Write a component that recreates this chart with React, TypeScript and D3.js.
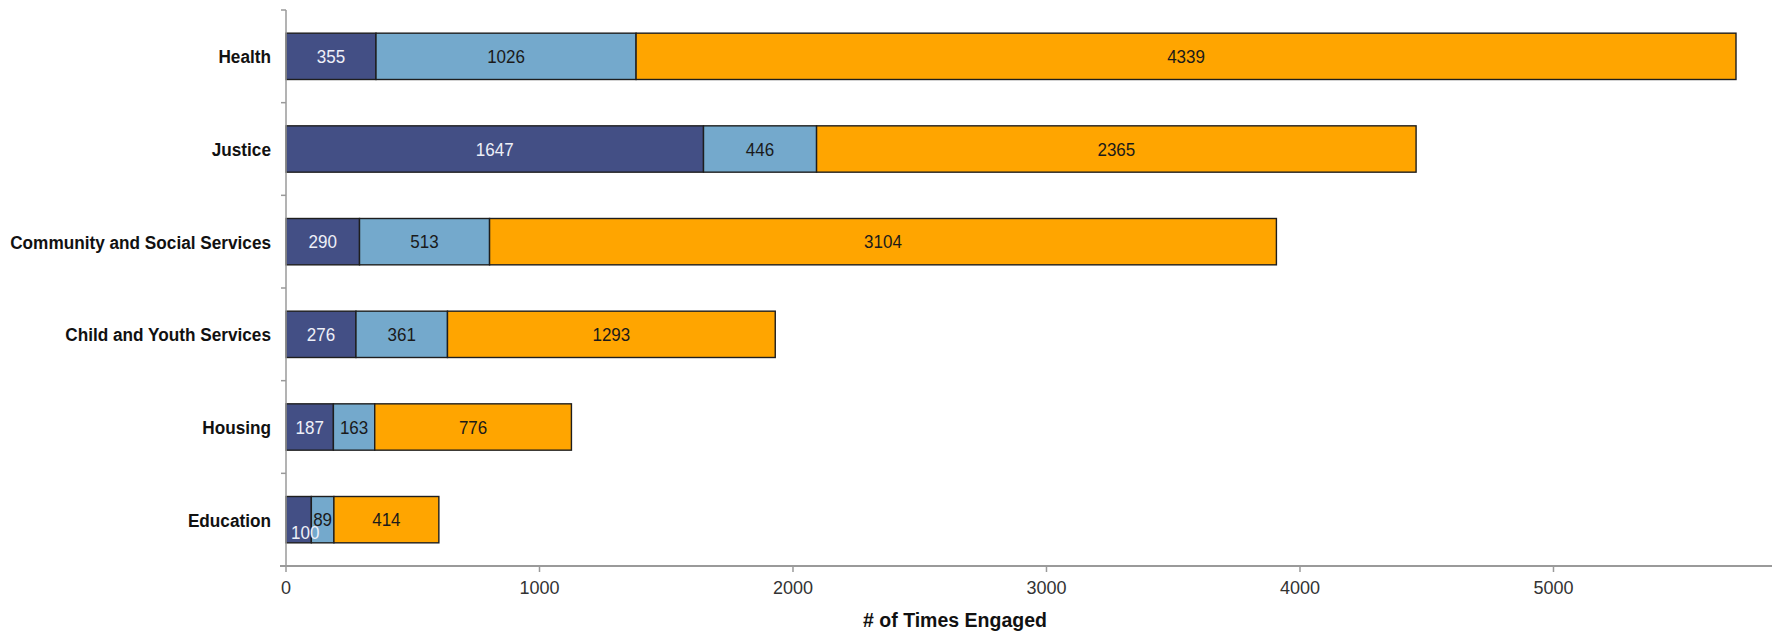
import React from "react";
import * as d3 from "d3";

const categories = ["Health", "Justice", "Community and Social Services", "Child and Youth Services", "Housing", "Education"];
const seriesA = [355, 1647, 290, 276, 187, 100];
const seriesB = [1026, 446, 513, 361, 163, 89];
const seriesC = [4339, 2365, 3104, 1293, 776, 414];
const xTicks = [0, 1000, 2000, 3000, 4000, 5000];
const xTitle = "# of Times Engaged";

const colors = ["#434f85", "#74a9cc", "#ffa500"];
const labelColors = ["#eef0f8", "#1a1a1a", "#1a1a1a"];

const W = 1776;
const H = 633;
const left = 286;
const right = 1772;
const top = 10;
const bottom = 566;
const FONT = "'Liberation Sans', Arial, sans-serif";

export default function App() {
  const x = d3.scaleLinear().domain([0, 5862]).range([left, right]);
  const y = d3.scaleBand().domain(categories).range([top, bottom]).paddingInner(0.5).paddingOuter(0.25);
  const band = d3.scaleBand().domain(categories).range([top, bottom]);
  const stack = d3.stack<any>().keys(["a", "b", "c"]);
  const rows = categories.map((c, i) => ({ cat: c, a: seriesA[i], b: seriesB[i], c: seriesC[i] }));
  const stacked = stack(rows);
  const bw = y.bandwidth();
  const fs = 17;

  return (
    <svg width={W} height={H} style={{ position: "absolute", left: 0, top: 0, background: "#fff" }}>
      {/* bars */}
      {stacked.map((s, si) =>
        s.map((d, i) => (
          <rect
            key={`r${si}-${i}`}
            x={x(d[0])}
            y={y(categories[i])!}
            width={x(d[1]) - x(d[0])}
            height={bw}
            fill={colors[si]}
            stroke="#1e1e1e"
            strokeWidth={1.4}
          />
        ))
      )}
      {/* value labels */}
      {stacked.map((s, si) =>
        s.map((d, i) => {
          const v = d[1] - d[0];
          const segW = x(d[1]) - x(d[0]);
          const textW = String(v).length * fs * 0.556;
          let cx = (x(d[0]) + x(d[1])) / 2;
          let cy = y(categories[i])! + bw / 2;
          if (segW < textW + 2) {
            if (si === 0) {
              cx = x(d[0]) + textW / 2 + 5;
              cy += bw * 0.27;
            } else {
              cy -= bw * 0.2;
            }
          }
          return (
            <text
              key={`t${si}-${i}`}
              transform={`translate(${cx},${cy}) scale(1,1.08)`}
              dy="0.36em"
              textAnchor="middle"
              fontFamily={FONT}
              fontSize={fs}
              fill={labelColors[si]}
            >
              {v}
            </text>
          );
        })
      )}
      {/* y axis */}
      <line x1={left} x2={left} y1={top} y2={bottom} stroke="#9a9a9a" strokeWidth={1.5} />
      {categories.map((c, i) => (
        <line key={`yt${i}`} x1={left - 5} x2={left} y1={band(c)!} y2={band(c)!} stroke="#9a9a9a" strokeWidth={1.5} />
      ))}
      {categories.map((c, i) => (
        <text
          key={`yl${i}`}
          transform={`translate(${left - 15},${y(c)! + bw / 2}) scale(1,1.12)`}
          dy="0.36em"
          textAnchor="end"
          fontFamily={FONT}
          fontWeight="bold"
          fontSize={17.2}
          fill="#111"
        >
          {c}
        </text>
      ))}
      {/* x axis */}
      <line x1={left - 6} x2={right} y1={bottom} y2={bottom} stroke="#9a9a9a" strokeWidth={2} />
      {xTicks.map((t) => (
        <g key={`xt${t}`}>
          <line x1={x(t)} x2={x(t)} y1={bottom} y2={bottom + 6} stroke="#9a9a9a" strokeWidth={1.5} />
          <text x={x(t)} y={588} dy="0.36em" textAnchor="middle" fontFamily={FONT} fontSize={18} fill="#333">
            {t}
          </text>
        </g>
      ))}
      <text x={955} y={627} textAnchor="middle" fontFamily={FONT} fontWeight="bold" fontSize={19.5} fill="#111">
        {xTitle}
      </text>
    </svg>
  );
}
